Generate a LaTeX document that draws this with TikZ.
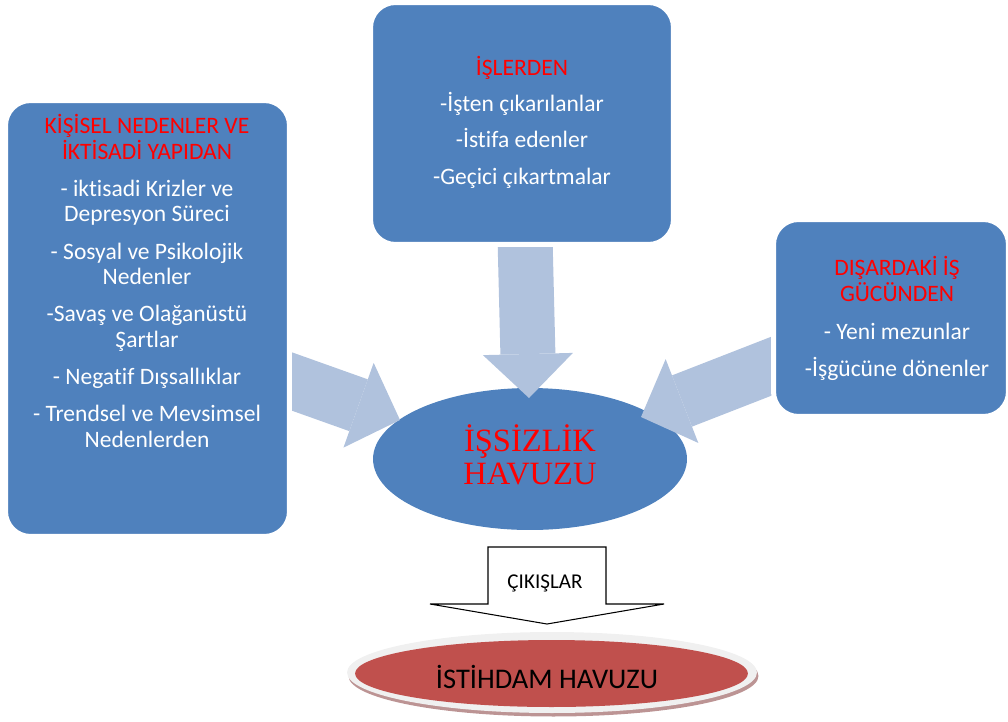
\documentclass[tikz,border=0pt]{standalone}
\usepackage{fontspec}
\setmainfont{Carlito}[Ligatures=CommonOff]
\newfontfamily\poolfont{Liberation Serif}
\usetikzlibrary{arrows.meta, shapes.geometric, positioning}

\definecolor{boxblue}{HTML}{4F81BD}
\definecolor{flowblue}{HTML}{B0C2DD}
\definecolor{titlered}{HTML}{FF0000}
\definecolor{poolred}{HTML}{C0504D}
\definecolor{rimgray}{HTML}{F0F0F0}
\definecolor{shadowred}{HTML}{BC9494}

\pgfdeclarelayer{background}
\pgfsetlayers{background,main}

\begin{document}
\begin{tikzpicture}[x=0.02cm, y=-0.02cm,
	causebox/.style={draw=white, line width=0.1cm, fill=boxblue, rounded corners=0.5cm, inner sep=0pt},
	boxtext/.style={align=center, text=white, inner sep=0pt, anchor=north, font=\fontsize{13.4}{14.6}\selectfont},
	flow/.style={flowblue, line width=1.1cm, -{Triangle[length=0.88cm, width=1.8cm, line width=0pt]}},
	exitarrow/.style={draw=black, line width=0.6pt, fill=white}]

	\useasboundingbox (0,0) rectangle (1008,721);

	% Sources
	\node[causebox, minimum width=5.68cm, minimum height=8.72cm] (leftbox) at (147.5,318.5) {};
	\node[causebox, minimum width=6.06cm, minimum height=4.84cm] (topbox) at (522,123.5) {};
	\node[causebox, minimum width=4.7cm, minimum height=3.94cm] (rightbox) at (891,318) {};

	\node[boxtext] (lefttext) at (147,114) {\textcolor{titlered}{KİŞİSEL NEDENLER VE}\\
		\textcolor{titlered}{İKTİSADİ YAPIDAN}\\[6.5pt]
		- iktisadi Krizler ve\\ Depresyon Süreci\\[6.5pt]
		- Sosyal ve Psikolojik\\ Nedenler\\[6.5pt]
		-Savaş ve Olağanüstü\\ Şartlar\\[6.5pt]
		- Negatif Dışsallıklar\\[6.5pt]
		- Trendsel ve Mevsimsel\\ Nedenlerden};
	\node[boxtext] (toptext) at (522,56) {\textcolor{titlered}{İŞLERDEN}\\[6pt]
		-İşten çıkarılanlar\\[6pt]
		-İstifa edenler\\[6pt]
		-Geçici çıkartmalar};
	\node[boxtext] (righttext) at (897,256) {\textcolor{titlered}{DIŞARDAKİ İŞ}\\
		\textcolor{titlered}{GÜCÜNDEN}\\[7pt]
		- Yeni mezunlar\\[6.5pt]
		-İşgücüne dönenler};

	% Pool and flows
	\coordinate (ltip) at (400,420);
	\coordinate (mtip) at (529,398);
	\coordinate (rtip) at (641,417);
	\begin{pgfonlayer}{background}
		\node[ellipse, fill=boxblue, minimum width=6.28cm, minimum height=2.84cm, inner sep=0pt] (pool) at (530,459) {};
		\draw[flow] ([xshift=-0.59cm, yshift=-1.05cm]leftbox.east) -- (ltip);
		\draw[flow] ([xshift=0.05cm, yshift=0.6cm]topbox.south) -- (mtip);
		\draw[flow] ([xshift=0.53cm, yshift=-0.76cm]rightbox.west) -- (rtip);
	\end{pgfonlayer}
	\node[align=center, text=titlered, inner sep=0pt, font=\poolfont\fontsize{18.5}{18.7}\selectfont] (pooltext) at (530,455) {İŞSİZLİK\\HAVUZU};

	% Exits
	\draw[exitarrow] (488,547) -- (606,547) -- (606,604) -- (664,604) -- (547,624) -- (430,604) -- (488,604) -- cycle;
	\node[anchor=base, inner sep=0pt, font=\fontsize{12}{14.6}\selectfont] (exits) at (545,588) {ÇIKIŞLAR};

	% Employment pool
	\fill[shadowred] (553.5,676) ellipse [x radius=4.1cm, y radius=0.81cm];
	\fill[rimgray] (552,672.5) ellipse [x radius=4.1cm, y radius=0.81cm];
	\node[ellipse, fill=poolred, minimum width=7.86cm, minimum height=1.34cm, inner sep=0pt] (jobs) at (551.5,673.5) {};
	\node[anchor=base, inner sep=0pt, font=\fontsize{16.2}{18}\selectfont] (jobstext) at (547,688) {İSTİHDAM HAVUZU};

\end{tikzpicture}
\end{document}
